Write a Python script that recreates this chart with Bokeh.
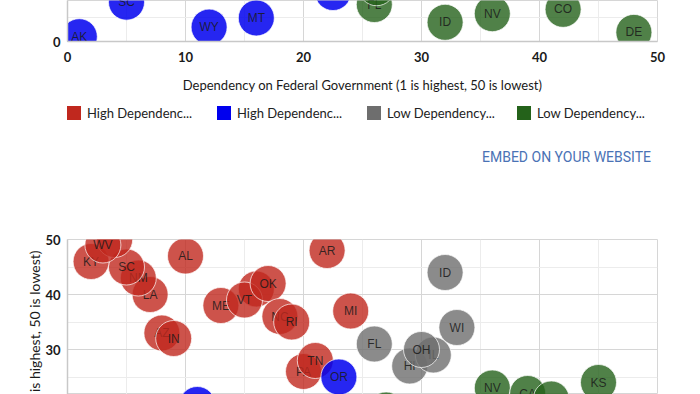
from bokeh.plotting import figure
from bokeh.models import Range1d, FixedTicker, Div, Title
from bokeh.layouts import column
from bokeh.embed import file_html
from bokeh.resources import INLINE
from bokeh.core.properties import value

# ---------------- data ----------------
X_TICKS = [0, 10, 20, 30, 40, 50]
X_MINOR = [5, 15, 25, 35, 45]
Y_TICKS = [0, 10, 20, 30, 40, 50]
Y_MINOR = [5, 15, 25, 35, 45]
X_TITLE = "Dependency on Federal Government (1 is highest, 50 is lowest)"
Y_TITLE = "Tax Burden (1 is highest, 50 is lowest)"
LEGEND_LABELS = ["High Dependenc...", "High Dependenc...", "Low Dependency...", "Low Dependency..."]
SERIES_COLORS = ["#c0281e", "#0000ee", "#6e6e6e", "#24621a"]
EMBED_TEXT = "EMBED ON YOUR WEBSITE"

# chart 1 (top, partly visible)
c1_blue_states = ["AK", "SC", "WY", "MT", ""]
c1_blue_x = [1, 5, 12, 16, 22.5]
c1_blue_y = [1.0, 8.2, 3.0, 4.9, 10.2]
c1_green_states = ["FL", "", "ID", "NV", "CO", "DE"]
c1_green_x = [26, 26.2, 32, 36, 42, 48]
c1_green_y = [7.7, 11.2, 4.0, 5.8, 6.7, 1.9]

# chart 2 (bottom, partly visible)
c2_red_states = ["LA", "NM", "SC", "KY", "", "WV", "AL", "AZ", "IN", "ME", "", "VT", "OK", "NC", "RI", "AR", "PA", "TN", "MI"]
c2_red_x = [7, 6, 5, 2, 4, 3, 10, 8, 9, 13, 16, 15, 17, 18, 19, 22, 20, 21, 24]
c2_red_y = [40, 43, 45, 46, 50, 49, 47, 33, 32, 38, 41, 39, 42, 36, 35, 48, 26, 28, 37]
c2_blue_states = ["", "OR"]
c2_blue_x = [11, 23]
c2_blue_y = [20, 25]
c2_gray_states = ["FL", "HI", "IL", "OH", "WI", "ID"]
c2_gray_x = [26, 29, 31, 30, 33, 32]
c2_gray_y = [31, 27, 29, 30, 34, 44]
c2_green_states = ["", "NV", "CA", "", "KS"]
c2_green_x = [27, 36, 39, 41, 45]
c2_green_y = [19, 23, 22, 21, 24]

W = 700
TICK_FONT = "Lato"


def style_axes(p, show_x=True):
    for ax in [p.xaxis[0], p.yaxis[0]]:
        ax.major_tick_out = 0
        ax.major_tick_in = 0
        ax.minor_tick_out = 0
        ax.minor_tick_in = 0
        ax.axis_line_color = "#c8c8c8"
        ax.axis_line_width = 1.5
        ax.major_label_text_font = TICK_FONT
        ax.major_label_text_font_size = "13px"
        ax.major_label_text_font_style = "bold"
        ax.major_label_text_color = "#1a1a1a"
    p.xaxis[0].ticker = FixedTicker(ticks=X_TICKS, minor_ticks=X_MINOR)
    p.yaxis[0].ticker = FixedTicker(ticks=Y_TICKS, minor_ticks=Y_MINOR)
    p.yaxis[0].major_label_standoff = 7
    for g in [p.xgrid[0], p.ygrid[0]]:
        g.grid_line_color = "#d6d6d6"
        g.minor_grid_line_color = "#ececec"
    p.xgrid[0].ticker = FixedTicker(ticks=X_TICKS, minor_ticks=X_MINOR)
    p.ygrid[0].ticker = FixedTicker(ticks=Y_TICKS, minor_ticks=Y_MINOR)
    p.outline_line_color = "#d6d6d6"
    p.background_fill_color = "white"
    p.border_fill_color = "white"
    if not show_x:
        p.xaxis[0].visible = False


def bubbles(p, states, xs, ys, color, alpha=0.8):
    for s, x, y in zip(states, xs, ys):
        p.scatter(x=[x], y=[y], size=36, fill_color=color, fill_alpha=alpha,
                  line_color="white", line_alpha=0.7, line_width=1)
        if s:
            p.text(x=[x], y=[y], text=[s], text_align="center", text_baseline="middle",
                   text_font=value("Liberation Sans"), text_font_size="12px",
                   text_color="#1a1a1a", text_alpha=0.85)


# ---------------- top chart ----------------
p1 = figure(width=W, height=100, title=None, x_range=Range1d(0, 50), y_range=Range1d(0, 41 / 4.8),
            output_backend="svg", toolbar_location=None,
            min_border_left=67, min_border_right=43, min_border_top=0, min_border_bottom=59)
style_axes(p1)
p1.xaxis[0].axis_label = X_TITLE
p1.xaxis[0].axis_label_text_font = TICK_FONT
p1.xaxis[0].axis_label_text_font_size = "13px"
p1.xaxis[0].axis_label_text_font_style = "normal"
p1.xaxis[0].axis_label_text_color = "#1a1a1a"
p1.xaxis[0].major_label_standoff = 10
p1.xaxis[0].axis_label_standoff = 12

bubbles(p1, c1_blue_states, c1_blue_x, c1_blue_y, SERIES_COLORS[1], 0.85)
bubbles(p1, c1_green_states, c1_green_x, c1_green_y, SERIES_COLORS[3])

# ---------------- legend (HTML row under the top chart) ----------------
legend_items = "".join(
    '<div style="width:150px;display:flex;align-items:center;">'
    '<span style="display:inline-block;width:14px;height:14px;margin-right:6px;background:%s;"></span>'
    '<span style="white-space:nowrap;">%s</span></div>' % (col, lab)
    for lab, col in zip(LEGEND_LABELS, SERIES_COLORS))
legend_div = Div(text=('<div style="display:flex;padding-left:67px;padding-top:6px;'
                       'font-family:Lato;font-size:13px;line-height:14px;color:#222222;">'
                       + legend_items + '</div>'), width=W, height=33, margin=0)

# ---------------- embed link ----------------
embed = Div(text=('<div style="padding-left:482px;padding-top:16px;white-space:nowrap;'
                  'font-family:Roboto;font-size:14px;line-height:16px;color:#4a72b5;">'
                  + EMBED_TEXT + '</div>'), width=W, height=47, margin=0)

# ---------------- bottom chart ----------------
p2 = figure(width=W, height=214, title=None, x_range=Range1d(0, 50), y_range=Range1d(50 - 155 / 5.5, 50),
            output_backend="svg", toolbar_location=None,
            min_border_left=67, min_border_right=43, min_border_top=59, min_border_bottom=0)
style_axes(p2, show_x=False)
ytitle = Title(text=Y_TITLE, align="right", offset=11, standoff=0, text_font=TICK_FONT,
               text_font_size="14px", text_font_style="normal", text_color="#1a1a1a")
p2.add_layout(ytitle, "left")

bubbles(p2, c2_red_states, c2_red_x, c2_red_y, SERIES_COLORS[0])
bubbles(p2, c2_blue_states, c2_blue_x, c2_blue_y, SERIES_COLORS[1], 0.85)
bubbles(p2, c2_gray_states, c2_gray_x, c2_gray_y, SERIES_COLORS[2])
bubbles(p2, c2_green_states, c2_green_x, c2_green_y, SERIES_COLORS[3])

layout = column(p1, legend_div, embed, p2, spacing=0)
open("out.html", "w").write(file_html(layout, INLINE))
